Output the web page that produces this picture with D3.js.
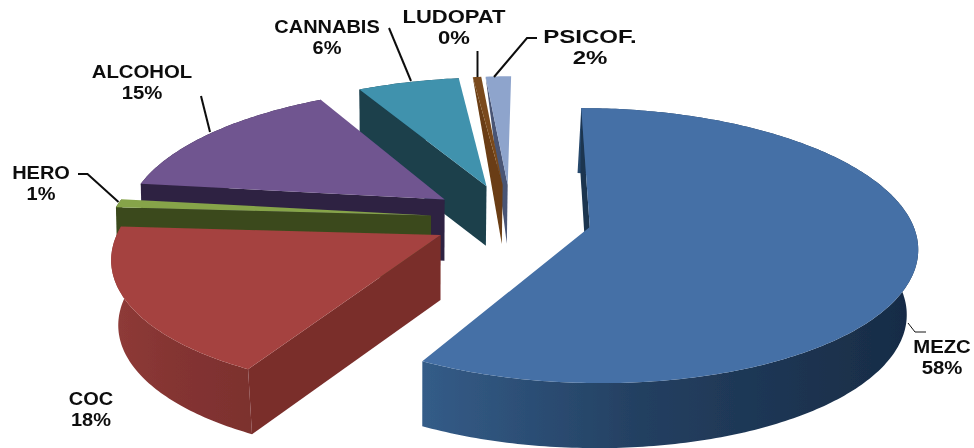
<!DOCTYPE html>
<html><head><meta charset="utf-8">
<style>html,body{margin:0;padding:0;background:#fff;overflow:hidden}svg{display:block}
text{font-family:"Liberation Sans",Arial,sans-serif;font-weight:700;font-size:18.5px;fill:#111;text-anchor:middle}</style>
<script src="https://cdn.jsdelivr.net/npm/d3@7"></script></head><body>
<svg id="c" width="974" height="448"></svg>
<script>
// data
const categories = ["MEZC","COC","HERO","ALCOHOL","CANNABIS","LUDOPAT","PSICOF."];
const values = [58,18,1,15,6,0.5,1.5];
const percentLabels = ["58%","18%","1%","15%","6%","0%","2%"];
// styles
const topColors  = ["#4570a6","#a5423f","#86a44a","#705490","#3f92ad","#7a4a1a","#8ea4cc"];
const wallColors = ["#1a3550","#7a2e2c","#3a4a1c","#2f2342","#1a3f4c","#6a3d12","#4a5575"];
const sideFrom   = ["#345c88","#8f3b38","#3a4a1c","#2f2342","#1a3f4c","#6a3d12","#4a5575"];
const sideTo     = ["#172b45","#7c302e","#3a4a1c","#2f2342","#1a3f4c","#6a3d12","#4a5575"];
const labelX  = [942,91,41,142,327,454,590];
const labelY  = [353,405,179,78,33,22.5,43];
const labelStretch = [1.1,1.08,1.08,1.1,1.08,1.19,1.3];
const leaders = [
  [[908,323],[915,332],[926,332]],[],
  [[78,174],[87.5,174],[118.5,202]],
  [[201,96],[210,132]],
  [[389,28],[411,81]],
  [[477.5,51],[477.5,77]],
  [[537,38],[527,38],[494,77]]];
const leaderWidth = [1,0,2,2,2,2,2];

// 3D pie projection parameters
const cx=511.5, cy=218.6, ex=80.8, ey=34, rx=324, ry=135, persp=0.135, skew=0.17, skewX0=533;
const depth=65, vanishX=420, baseShrink=0.977, wallShrink=0.99;

const svg=d3.select("#c"), defs=svg.append("defs");
defs.append("filter").attr("id","soft").append("feGaussianBlur").attr("stdDeviation",0.45);
const g=svg.append("g").attr("filter","url(#soft)");
const pie=d3.pie().sort(null).value(d=>d)(values);
const line=d3.line();

function projector(mid){
  const X=cx+ex*Math.sin(mid), Y=cy-ey*Math.cos(mid);
  const k=Math.min(1,1+0.0021*(Y-227)), kx=Math.min(1,1+0.0012*(Y-227));
  const pt=(u,v)=>{const s=1/(1-persp*v);
    return [X+s*(kx*rx*u+k*skew*(X-skewX0)*v), Y+k*s*ry*v];};
  const top=a=>pt(Math.sin(a),-Math.cos(a));
  const low=(p,sh=baseShrink)=>[vanishX+(p[0]-vanishX)*sh, p[1]+depth*k];
  return {apex:pt(0,0),top,low};
}
d3.range(pie.length-1,-1,-1).forEach(i=>{
  const d=pie[i], P=projector((d.startAngle+d.endAngle)/2);
  const n=Math.max(2,Math.ceil((d.endAngle-d.startAngle)/0.015));
  const arcPts=d3.range(n+1).map(j=>P.top(d.startAngle+(d.endAngle-d.startAngle)*j/n));
  const backSliver=values[i]<=2 && Math.cos((d.startAngle+d.endAngle)/2)>0.9;
  const grad="side"+i;
  const lg=defs.append("linearGradient").attr("id",grad);
  lg.append("stop").attr("offset",0).attr("stop-color",sideFrom[i]);
  lg.append("stop").attr("offset",0.45).attr("stop-color",d3.interpolateRgb(sideFrom[i],sideTo[i])(0.6));
  lg.append("stop").attr("offset",1).attr("stop-color",sideTo[i]);
  if(!backSliver){
    g.append("path").attr("d",line(arcPts.concat(arcPts.map(p=>P.low(p)).reverse()))+"Z").attr("fill",`url(#${grad})`);
  }
  const s0=arcPts[0], outerSh=Math.cos(d.startAngle)>0?0.995:baseShrink;
  const wall=backSliver
    ?[s0,P.apex,P.low(P.apex,wallShrink)]
    :[s0,P.apex,P.low(P.apex,wallShrink),P.low(s0,outerSh)];
  g.append("path").attr("d",line(wall)+"Z").attr("fill",wallColors[i]);
  g.append("path").attr("d",line([P.apex].concat(arcPts))+"Z").attr("fill",topColors[i]);
});
const lab=svg.append("g").attr("filter","url(#soft)");
categories.forEach((c,i)=>{
  if(leaders[i].length) lab.append("path").attr("d",line(leaders[i])).attr("fill","none")
    .attr("stroke","#111").attr("stroke-width",leaderWidth[i]);
  const t=lab.append("g").attr("transform",`translate(${labelX[i]},${labelY[i]}) scale(${labelStretch[i]},1)`);
  t.append("text").text(c);
  t.append("text").attr("y",21.5).text(percentLabels[i]);
});
</script></body></html>
